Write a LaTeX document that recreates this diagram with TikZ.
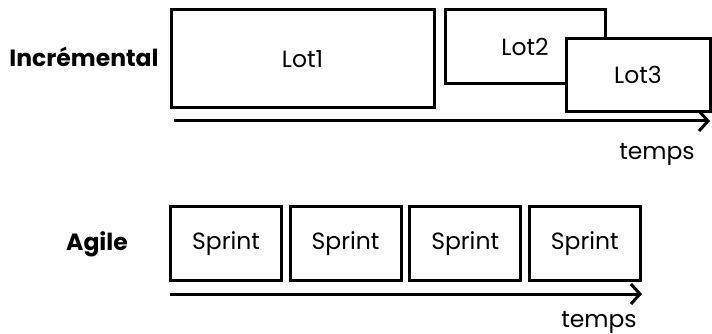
\documentclass[tikz,border=0pt]{standalone}
\usepackage{fontspec}
\setmainfont{Poppins}
\usetikzlibrary{arrows.meta,positioning}

\tikzset{
  lotbox/.style={draw,fill=white,line width=3pt,inner sep=0pt,font=\fontsize{23.5}{26}\selectfont},
  sprintbox/.style={lotbox,minimum width=111pt,minimum height=74pt},
  label/.style={font=\fontsize{23.5}{26}\selectfont\bfseries},
  timeline/.style={line width=3pt,-{Straight Barb[length=9pt,width=20pt]}}
}

\begin{document}
\begin{tikzpicture}[x=1pt,y=-1pt]
   \useasboundingbox (0,0) rectangle (712,334);
   % incremental
   \node[label] (inc) at (84,57) {Incrémental};
   \node[lotbox,minimum width=263pt,minimum height=98pt] (lot1) at (302.5,59) {Lot1};
   \node[lotbox,minimum width=160pt,minimum height=74pt] (lot2) at (525,47) {Lot2};
   \node[lotbox,minimum width=144pt,minimum height=73pt] (lot3) at (638,75) {Lot3};
   \coordinate (t1s) at (174,121);
   \coordinate (t1e) at (710,121);
   \draw[timeline] (t1s) -- (t1e);
   \node[font=\fontsize{23.5}{26}\selectfont] (temps1) at (657,154) {temps};
   % agile
   \node[label] (agile) at (97,244) {Agile};
   \foreach \i in {1,...,4}
     \node[sprintbox] (sprint\i) at ({226+119.6*(\i-1)},243.5) {Sprint};
   \coordinate (t2s) at (170,294);
   \coordinate (t2e) at (642,294);
   \draw[timeline] (t2s) -- (t2e);
   \node[font=\fontsize{23.5}{26}\selectfont] (temps2) at (599,322) {temps};
\end{tikzpicture}
\end{document}
